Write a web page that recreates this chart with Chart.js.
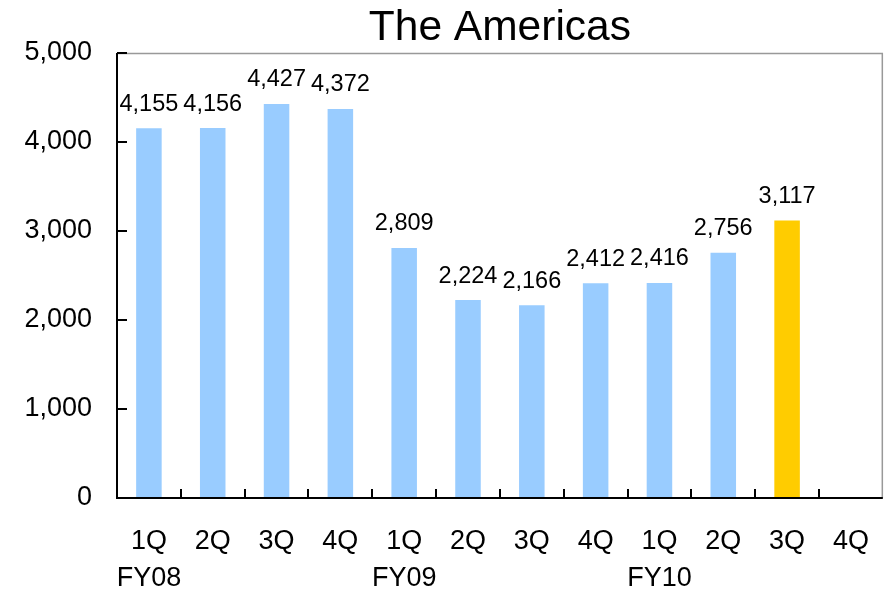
<!DOCTYPE html>
<html>
<head>
<meta charset="utf-8">
<script src="https://cdn.jsdelivr.net/npm/chart.js@4"></script>
<style>
  html, body { margin: 0; padding: 0; background: #fff; }
  #wrap { width: 894px; height: 590px; }
</style>
</head>
<body>
<div id="wrap"><canvas id="americas-chart" width="894" height="590"></canvas></div>
<script>
const chartTitle = "The Americas";
const quarters = ["1Q", "2Q", "3Q", "4Q", "1Q", "2Q", "3Q", "4Q", "1Q", "2Q", "3Q", "4Q"];
const fiscalYears = ["FY08", "", "", "", "FY09", "", "", "", "FY10", "", "", ""];
const sales = [4155, 4156, 4427, 4372, 2809, 2224, 2166, 2412, 2416, 2756, 3117, null];
const highlightIndex = 10;
const yTicks = [0, 1000, 2000, 3000, 4000, 5000];

const labels = quarters.map((q, i) => fiscalYears[i] ? [q, fiscalYears[i]] : [q]);
const barColors = sales.map((v, i) => i === highlightIndex ? "#FFCC00" : "#99CCFF");
const fontName = "'Liberation Sans', Arial, sans-serif";

// title over plot area, frame, inward tick marks and value labels
const framePlugin = {
  id: "frame",
  afterDraw(chart) {
    const c = chart.ctx, a = chart.chartArea;
    const y = chart.scales.y;
    c.save();
    // title centred on the plot area
    c.fillStyle = "#000";
    c.font = "42.5px " + fontName;
    c.textAlign = "center";
    c.textBaseline = "alphabetic";
    c.fillText(chartTitle, (a.left + a.right) / 2, 40);
    // grey top + right
    c.strokeStyle = "#999";
    c.lineWidth = 1.5;
    c.beginPath();
    c.moveTo(a.left, a.top + 0.5);
    c.lineTo(a.right - 0.5, a.top + 0.5);
    c.lineTo(a.right - 0.5, a.bottom);
    c.stroke();
    // black axes
    c.strokeStyle = "#000";
    c.lineWidth = 2;
    c.beginPath();
    c.moveTo(a.left, a.top);
    c.lineTo(a.left, a.bottom);
    c.lineTo(a.right, a.bottom);
    c.stroke();
    // y ticks pointing inward
    yTicks.forEach(v => {
      const py = y.getPixelForValue(v);
      c.beginPath();
      c.moveTo(a.left, py);
      c.lineTo(a.left + 10, py);
      c.stroke();
    });
    // x ticks between categories
    const step = (a.right - a.left) / quarters.length;
    for (let i = 1; i < quarters.length; i++) {
      const px = Math.round(a.left + step * i);
      c.beginPath();
      c.moveTo(px, a.bottom);
      c.lineTo(px, a.bottom - 9);
      c.stroke();
    }
    // value labels
    c.font = "23.5px " + fontName;
    c.textBaseline = "middle";
    const meta = chart.getDatasetMeta(0);
    meta.data.forEach((bar, i) => {
      if (sales[i] == null) return;
      c.fillText(sales[i].toLocaleString("en-US"), bar.x, bar.y - 24);
    });
    c.restore();
  }
};

new Chart(document.getElementById("americas-chart"), {
  type: "bar",
  data: {
    labels: labels,
    datasets: [{
      data: sales,
      backgroundColor: barColors,
      borderWidth: 0,
      barPercentage: 0.4,
      categoryPercentage: 1
    }]
  },
  options: {
    responsive: false,
    animation: false,
    layout: { padding: { left: 0, right: 2, top: 53, bottom: 0 } },
    plugins: {
      legend: { display: false },
      tooltip: { enabled: false },
      title: { display: false }
    },
    scales: {
      x: {
        grid: { display: false, drawTicks: false },
        border: { display: false },
        ticks: {
          color: "#000",
          font: { family: fontName, size: 27, lineHeight: 1.37 },
          padding: 25,
          maxRotation: 0,
          autoSkip: false
        },
        afterFit(scale) { scale.height = 92; }
      },
      y: {
        min: 0,
        max: 5000,
        afterBuildTicks(scale) { scale.ticks = yTicks.map(v => ({ value: v })); },
        grid: { display: false, drawTicks: false },
        border: { display: false },
        ticks: {
          color: "#000",
          font: { family: fontName, size: 27 },
          padding: 25,
          callback: v => v.toLocaleString("en-US")
        },
        afterFit(scale) { scale.width = 117; }
      }
    }
  },
  plugins: [framePlugin]
});
</script>
</body>
</html>
